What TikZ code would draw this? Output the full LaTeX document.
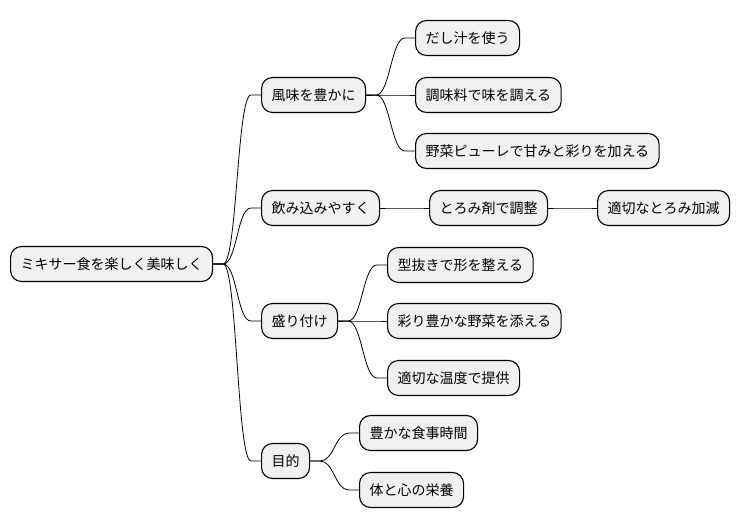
\documentclass[tikz,border=0pt]{standalone}
\usepackage{fontspec}
\setmainfont{Noto Sans CJK JP}
\tikzset{
  idea/.style={draw=black, line width=1.1pt, fill=black!6, rounded corners=11pt,
    minimum height=35pt, inner xsep=10pt, anchor=west, font=\fontsize{14pt}{16pt}\selectfont},
  branch/.style={line width=0.8pt, to path={-- ++(10pt,0)
    .. controls +(14pt,0) and +(-14pt,0) .. ([xshift=-10pt]\tikztotarget) -- (\tikztotarget)}}
}
\begin{document}
\begin{tikzpicture}[x=1pt, y=-1pt]
    \useasboundingbox (0,0) rectangle (740,527);
    \node [idea] (root) at (10,264) {ミキサー食を楽しく美味しく};
    \node [idea] (fumi) at (261,95) {風味を豊かに};
    \node [idea] (dashi) at (415,38) {だし汁を使う};
    \node [idea] (chomi) at (415,95) {調味料で味を調える};
    \node [idea] (pure) at (415,151) {野菜ピューレで甘みと彩りを加える};
    \node [idea] (nomi) at (261,208) {飲み込みやすく};
    \node [idea] (toromi) at (429,208) {とろみ剤で調整};
    \node [idea] (kagen) at (597,208) {適切なとろみ加減};
    \node [idea] (mori) at (261,321) {盛り付け};
    \node [idea] (kata) at (387,265) {型抜きで形を整える};
    \node [idea] (yasai) at (387,321) {彩り豊かな野菜を添える};
    \node [idea] (ondo) at (387,378) {適切な温度で提供};
    \node [idea] (moku) at (261,461) {目的};
    \node [idea] (jikan) at (359,433) {豊かな食事時間};
    \node [idea] (eiyo) at (359,490) {体と心の栄養};
    \foreach \a/\b in {root/fumi, root/nomi, root/mori, root/moku,
                       fumi/dashi, fumi/chomi, fumi/pure,
                       nomi/toromi, toromi/kagen,
                       mori/kata, mori/yasai, mori/ondo,
                       moku/jikan, moku/eiyo}
      \draw [branch] (\a.east) to (\b.west);
  \end{tikzpicture}
\end{document}
